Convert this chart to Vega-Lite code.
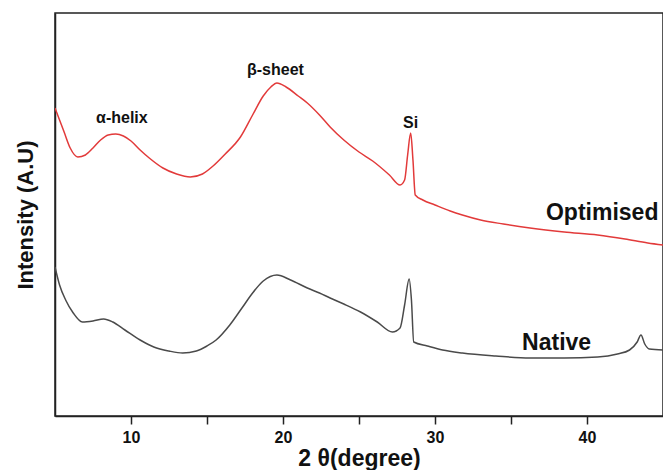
{
  "$schema": "https://vega.github.io/schema/vega-lite/v6.json",
  "width": 608,
  "height": 403,
  "autosize": {"type": "none"},
  "padding": {"left": 55, "top": 13, "right": 0, "bottom": 54},
  "background": "white",
  "config": {
    "view": {"stroke": "#222", "strokeWidth": 1.5},
    "font": "Liberation Sans",
    "axis": {"grid": false, "domainColor": "#222", "domainWidth": 1.5, "tickColor": "#222", "tickWidth": 1.5}
  },
  "datasets": {
    "curves": [
      {"series": "Optimised", "theta": 5.0, "intensity": 308},
      {"series": "Optimised", "theta": 5.3, "intensity": 296},
      {"series": "Optimised", "theta": 5.6, "intensity": 284},
      {"series": "Optimised", "theta": 6.0, "intensity": 268},
      {"series": "Optimised", "theta": 6.5, "intensity": 259},
      {"series": "Optimised", "theta": 7.0, "intensity": 261},
      {"series": "Optimised", "theta": 7.5, "intensity": 268},
      {"series": "Optimised", "theta": 8.0, "intensity": 276},
      {"series": "Optimised", "theta": 8.5, "intensity": 281},
      {"series": "Optimised", "theta": 9.0, "intensity": 282},
      {"series": "Optimised", "theta": 9.5, "intensity": 280},
      {"series": "Optimised", "theta": 10.0, "intensity": 275},
      {"series": "Optimised", "theta": 10.6, "intensity": 266},
      {"series": "Optimised", "theta": 11.2, "intensity": 258},
      {"series": "Optimised", "theta": 12.1, "intensity": 248},
      {"series": "Optimised", "theta": 13.0, "intensity": 242},
      {"series": "Optimised", "theta": 13.9, "intensity": 239},
      {"series": "Optimised", "theta": 14.7, "intensity": 242},
      {"series": "Optimised", "theta": 15.4, "intensity": 250},
      {"series": "Optimised", "theta": 16.2, "intensity": 262},
      {"series": "Optimised", "theta": 17.2, "intensity": 279},
      {"series": "Optimised", "theta": 18.0, "intensity": 301},
      {"series": "Optimised", "theta": 18.7, "intensity": 320},
      {"series": "Optimised", "theta": 19.2, "intensity": 329},
      {"series": "Optimised", "theta": 19.6, "intensity": 333},
      {"series": "Optimised", "theta": 20.2, "intensity": 329},
      {"series": "Optimised", "theta": 21.0, "intensity": 320},
      {"series": "Optimised", "theta": 21.6, "intensity": 313},
      {"series": "Optimised", "theta": 22.4, "intensity": 301},
      {"series": "Optimised", "theta": 23.1, "intensity": 289},
      {"series": "Optimised", "theta": 24.0, "intensity": 276},
      {"series": "Optimised", "theta": 25.0, "intensity": 264},
      {"series": "Optimised", "theta": 25.9, "intensity": 255},
      {"series": "Optimised", "theta": 27.0, "intensity": 241},
      {"series": "Optimised", "theta": 27.7, "intensity": 231},
      {"series": "Optimised", "theta": 28.0, "intensity": 236},
      {"series": "Optimised", "theta": 28.2, "intensity": 261},
      {"series": "Optimised", "theta": 28.4, "intensity": 283},
      {"series": "Optimised", "theta": 28.55, "intensity": 256},
      {"series": "Optimised", "theta": 28.7, "intensity": 221},
      {"series": "Optimised", "theta": 29.2, "intensity": 216},
      {"series": "Optimised", "theta": 30.0, "intensity": 211},
      {"series": "Optimised", "theta": 31.0, "intensity": 205},
      {"series": "Optimised", "theta": 31.8, "intensity": 201},
      {"series": "Optimised", "theta": 33.0, "intensity": 196},
      {"series": "Optimised", "theta": 34.5, "intensity": 192},
      {"series": "Optimised", "theta": 36.25, "intensity": 188},
      {"series": "Optimised", "theta": 38.5, "intensity": 184},
      {"series": "Optimised", "theta": 40.7, "intensity": 181},
      {"series": "Optimised", "theta": 42.5, "intensity": 177},
      {"series": "Optimised", "theta": 44.0, "intensity": 173},
      {"series": "Optimised", "theta": 45.0, "intensity": 171},
      {"series": "Native", "theta": 5.0, "intensity": 149},
      {"series": "Native", "theta": 5.3, "intensity": 131},
      {"series": "Native", "theta": 5.7, "intensity": 116},
      {"series": "Native", "theta": 6.2, "intensity": 103},
      {"series": "Native", "theta": 6.8, "intensity": 94},
      {"series": "Native", "theta": 7.5, "intensity": 95},
      {"series": "Native", "theta": 8.2, "intensity": 97},
      {"series": "Native", "theta": 8.8, "intensity": 94},
      {"series": "Native", "theta": 9.6, "intensity": 86},
      {"series": "Native", "theta": 10.6, "intensity": 76},
      {"series": "Native", "theta": 11.5, "intensity": 69},
      {"series": "Native", "theta": 12.5, "intensity": 65},
      {"series": "Native", "theta": 13.4, "intensity": 63},
      {"series": "Native", "theta": 14.3, "intensity": 65},
      {"series": "Native", "theta": 15.0, "intensity": 70},
      {"series": "Native", "theta": 15.6, "intensity": 76},
      {"series": "Native", "theta": 16.5, "intensity": 91},
      {"series": "Native", "theta": 17.3, "intensity": 108},
      {"series": "Native", "theta": 18.0, "intensity": 123},
      {"series": "Native", "theta": 18.7, "intensity": 135},
      {"series": "Native", "theta": 19.6, "intensity": 141},
      {"series": "Native", "theta": 20.5, "intensity": 136},
      {"series": "Native", "theta": 21.6, "intensity": 128},
      {"series": "Native", "theta": 22.4, "intensity": 123},
      {"series": "Native", "theta": 23.1, "intensity": 118},
      {"series": "Native", "theta": 24.0, "intensity": 112},
      {"series": "Native", "theta": 25.1, "intensity": 104},
      {"series": "Native", "theta": 26.2, "intensity": 94},
      {"series": "Native", "theta": 27.2, "intensity": 84},
      {"series": "Native", "theta": 27.7, "intensity": 88},
      {"series": "Native", "theta": 28.0, "intensity": 111},
      {"series": "Native", "theta": 28.3, "intensity": 137},
      {"series": "Native", "theta": 28.45, "intensity": 116},
      {"series": "Native", "theta": 28.6, "intensity": 74},
      {"series": "Native", "theta": 29.5, "intensity": 70},
      {"series": "Native", "theta": 30.5, "intensity": 66},
      {"series": "Native", "theta": 31.8, "intensity": 63},
      {"series": "Native", "theta": 34.0, "intensity": 60},
      {"series": "Native", "theta": 36.25, "intensity": 58},
      {"series": "Native", "theta": 38.5, "intensity": 58},
      {"series": "Native", "theta": 40.7, "intensity": 59},
      {"series": "Native", "theta": 42.0, "intensity": 62},
      {"series": "Native", "theta": 42.8, "intensity": 66},
      {"series": "Native", "theta": 43.3, "intensity": 74},
      {"series": "Native", "theta": 43.55, "intensity": 81},
      {"series": "Native", "theta": 43.8, "intensity": 72},
      {"series": "Native", "theta": 44.1, "intensity": 67},
      {"series": "Native", "theta": 45.0, "intensity": 66}
    ],
    "labels": [
      {"label": "α-helix", "theta": 9.4, "intensity": 298, "kind": "peak"},
      {"label": "β-sheet", "theta": 19.5, "intensity": 346, "kind": "peak"},
      {"label": "Si", "theta": 28.4, "intensity": 293, "kind": "peak"},
      {"label": "Optimised", "theta": 41.0, "intensity": 203, "kind": "series"},
      {"label": "Native", "theta": 38.0, "intensity": 73, "kind": "series"}
    ]
  },
  "layer": [
    {
      "data": {"name": "curves"},
      "mark": {"type": "line", "strokeWidth": 1.5, "clip": true, "interpolate": "monotone"},
      "encoding": {
        "x": {
          "field": "theta", "type": "quantitative",
          "scale": {"domain": [5, 45], "nice": false, "zero": false},
          "axis": {
            "title": "2 θ(degree)", "values": [10, 15, 20, 25, 30, 35, 40],
            "labelExpr": "datum.value % 10 === 0 ? datum.value : ''",
            "tickSize": 8, "labelPadding": 5, "labelFontSize": 16, "labelFontWeight": "bold", "labelColor": "#111",
            "titleFontSize": 23, "titleFontWeight": "bold", "titleColor": "#111", "titlePadding": 2
          }
        },
        "y": {
          "field": "intensity", "type": "quantitative",
          "scale": {"domain": [0, 403], "nice": false, "zero": false},
          "axis": {
            "title": "Intensity (A.U)", "ticks": false, "labels": false,
            "titleFontSize": 22, "titleFontWeight": "bold", "titleColor": "#111", "titlePadding": 18
          }
        },
        "color": {
          "field": "series", "type": "nominal",
          "scale": {"domain": ["Optimised", "Native"], "range": ["#e23a3a", "#4a4a4a"]},
          "legend": null
        },
        "detail": {"field": "series"}
      }
    },
    {
      "data": {"name": "labels"},
      "mark": {"type": "text", "fontWeight": "bold", "align": "center", "baseline": "middle", "color": "#111"},
      "encoding": {
        "x": {"field": "theta", "type": "quantitative"},
        "y": {"field": "intensity", "type": "quantitative"},
        "text": {"field": "label"},
        "size": {"field": "kind", "type": "nominal", "scale": {"domain": ["peak", "series"], "range": [16, 23]}, "legend": null}
      }
    }
  ]
}
